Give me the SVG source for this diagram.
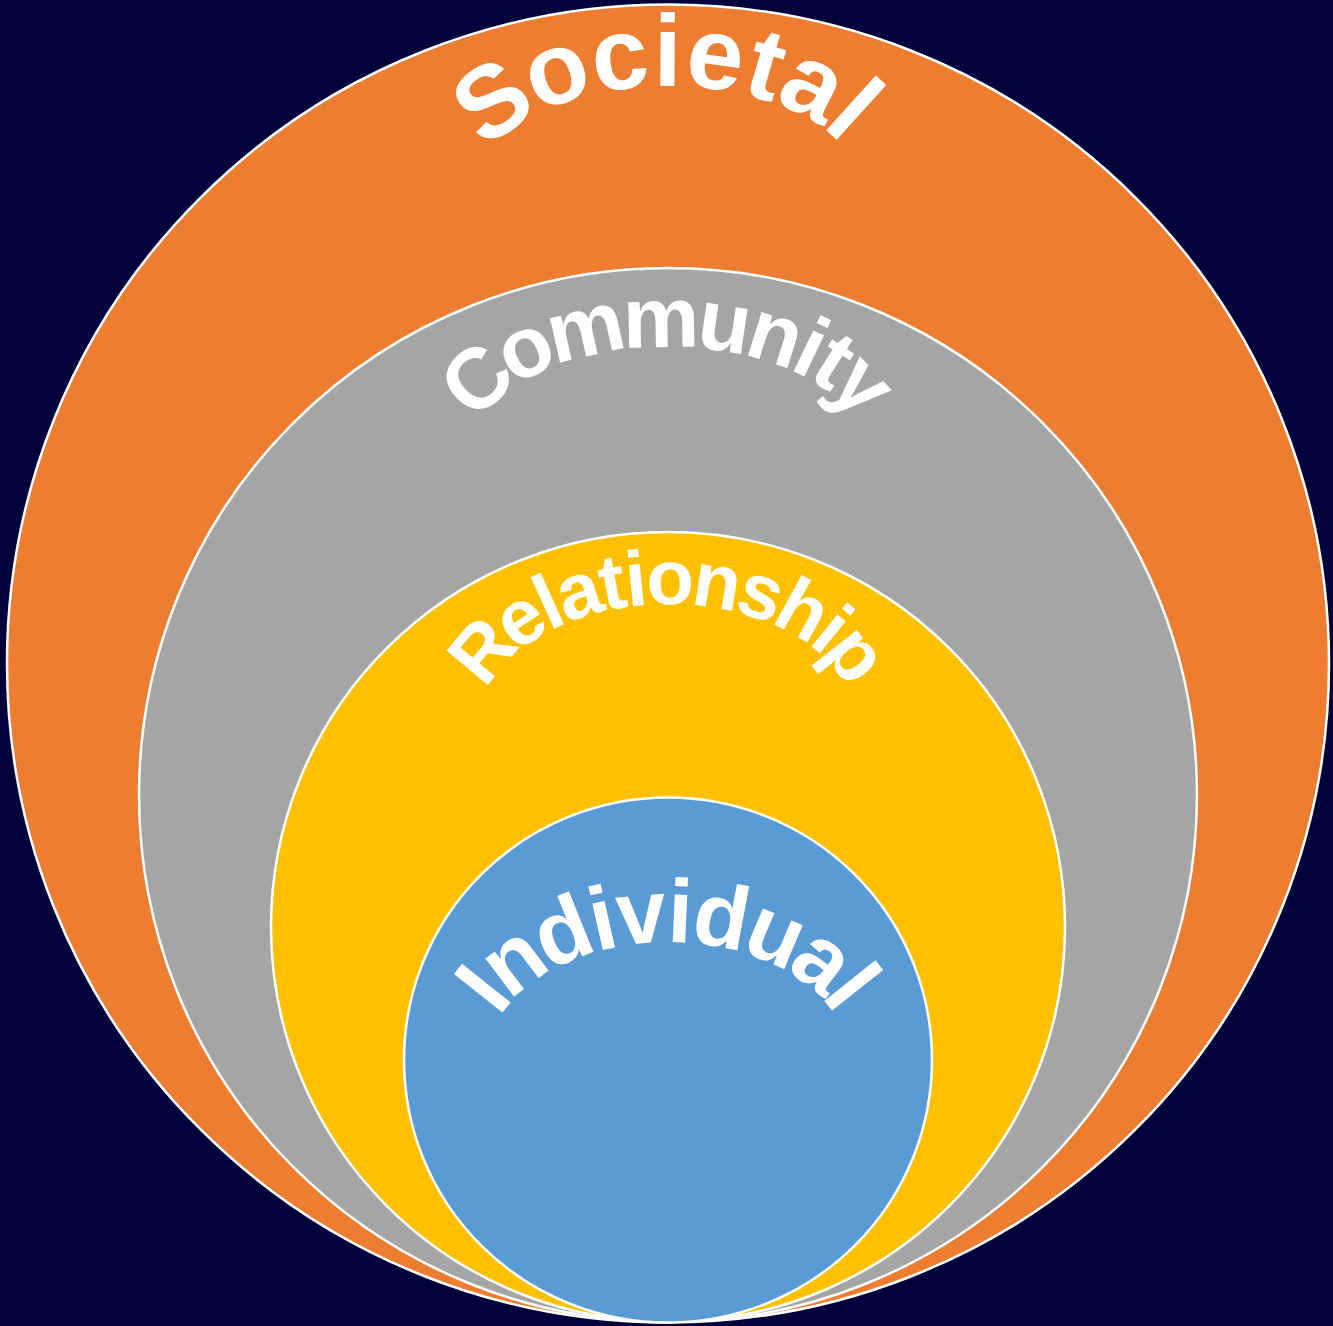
<svg xmlns="http://www.w3.org/2000/svg" width="1333" height="1326" viewBox="0 0 1333 1326">
<style>
.ring{stroke:#ffffff;stroke-width:2.5}
.lbl{font-family:"Liberation Sans",Arial,sans-serif;font-weight:bold;fill:#ffffff;dominant-baseline:central}
</style>
<defs>
<path id="pSoc" d="M456.6,226.8 A225,131 0 1 1 879.4,226.8"/>
<path id="pCom" d="M459.4,484.8 A222,125 0 1 1 876.6,484.8"/>
<path id="pRel" d="M467.8,767.6 A213,142 0 1 1 868.2,767.6"/>
<path id="pInd" d="M468.8,1111 A212,149 0 1 1 867.2,1111"/>
</defs>
<rect width="1333" height="1326" fill="#00003a"/>
<g id="societal">
<ellipse class="ring" cx="668" cy="663.5" rx="661" ry="659" fill="#ed7d31"/>
<text class="lbl" font-size="102" letter-spacing="6"><textPath href="#pSoc" startOffset="50%" text-anchor="middle">Societal</textPath></text>
</g>
<g id="community">
<ellipse class="ring" cx="668" cy="795" rx="529" ry="527" fill="#a5a5a5"/>
<text class="lbl" font-size="86"><textPath href="#pCom" startOffset="50%" text-anchor="middle">Community</textPath></text>
</g>
<g id="relationship">
<ellipse class="ring" cx="668" cy="927" rx="397" ry="395" fill="#ffc000"/>
<text class="lbl" font-size="78"><textPath href="#pRel" startOffset="50%" text-anchor="middle">Relationship</textPath></text>
</g>
<g id="individual">
<ellipse class="ring" cx="668" cy="1060" rx="264" ry="262.5" fill="#5b9bd5"/>
<text class="lbl" font-size="90" letter-spacing="2"><textPath href="#pInd" startOffset="50%" text-anchor="middle">Individual</textPath></text>
</g>
<g id="connectors"></g>
</svg>
